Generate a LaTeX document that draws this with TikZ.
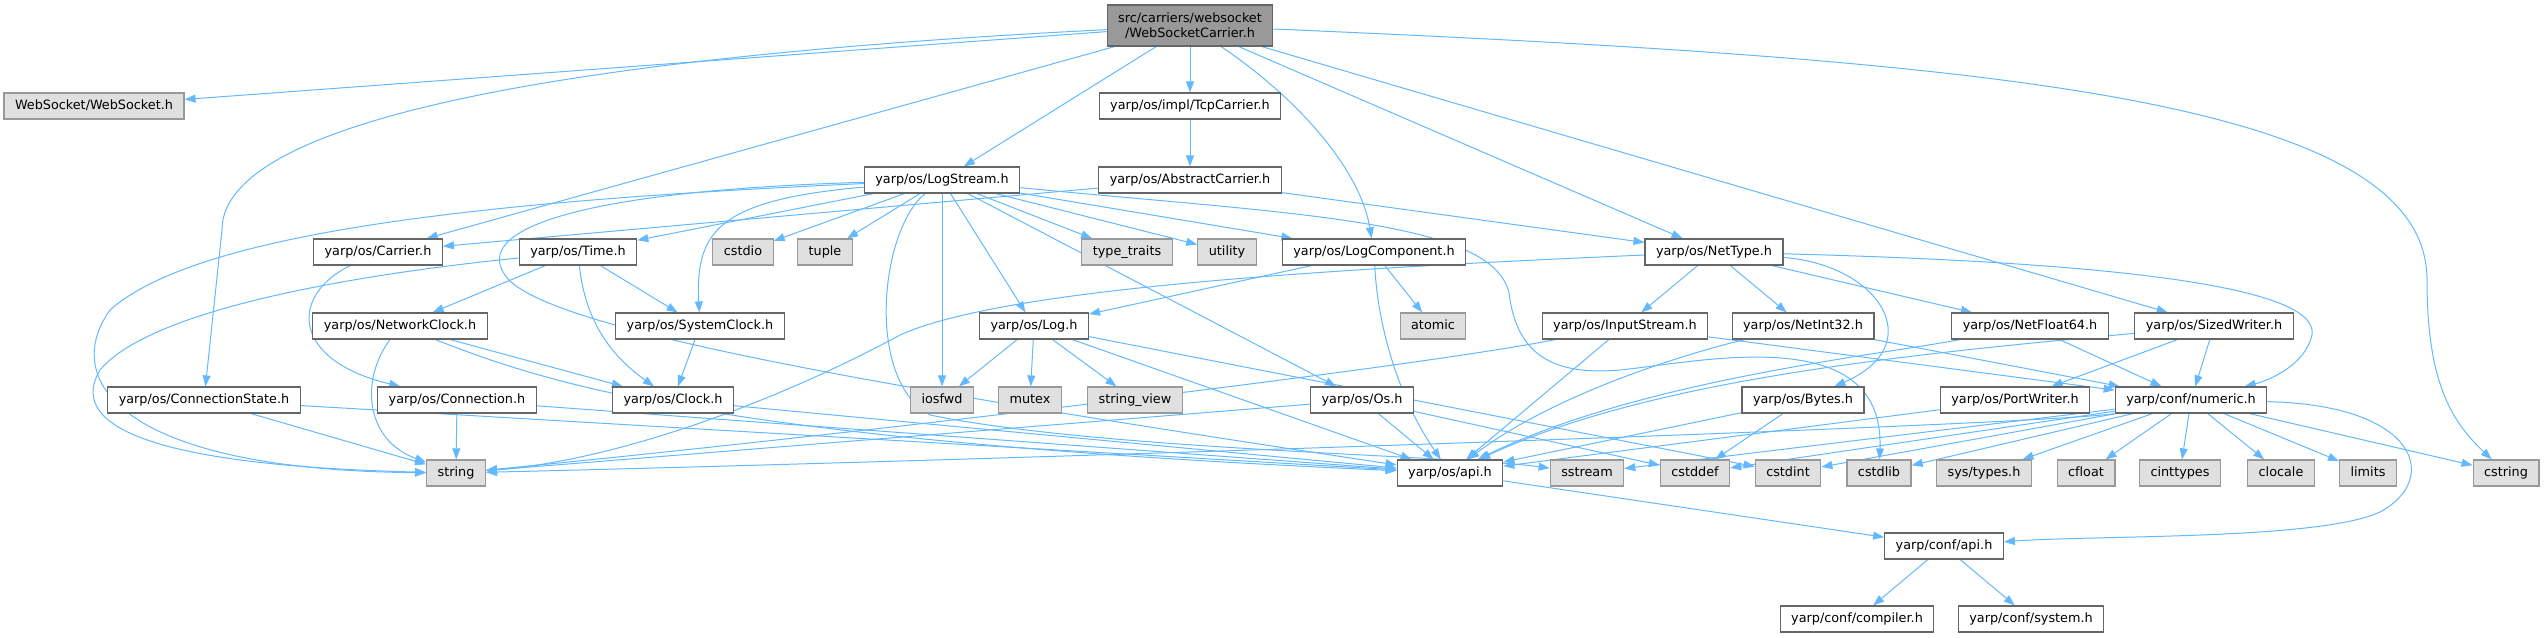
\documentclass[tikz,border=0pt]{standalone}
\usepackage{fontspec}
\setmainfont{DejaVu Sans}[Ligatures=NoCommon]
\usepackage{tikz}
\usetikzlibrary{arrows.meta}
\definecolor{incblue}{HTML}{63B8FF}
\definecolor{boxgray}{HTML}{666666}
\definecolor{sysgray}{HTML}{999999}
\definecolor{sysfill}{HTML}{E0E0E0}
\definecolor{srcfill}{HTML}{999999}
\pgfdeclarelayer{back}
\pgfsetlayers{back,main}

\begin{document}
\begin{tikzpicture}[
    x=1pt, y=-1pt,
    anybox/.style={rectangle, line width=1.2pt, font=\fontsize{12.8}{15}\selectfont,
                   inner xsep=11pt, inner ysep=0pt},
    hdrbox/.style={anybox, draw=boxgray, fill=white, minimum height=26pt,
                   text height=9.6pt, text depth=2.9pt},
    sysbox/.style={hdrbox, draw=sysgray, fill=sysfill},
    srcbox/.style={anybox, draw=boxgray, fill=srcfill, align=center, minimum height=41pt},
    arr/.style={-{Triangle[length=11pt,width=8pt]}, incblue, line width=1pt}
  ]
    \useasboundingbox (0,0) rectangle (2545,637);

    \node[srcbox] (main) at (1190,25.5) {src/carriers/websocket\\/WebSocketCarrier.h};

    \node[sysbox] (websocket) at (94,106)  {WebSocket/WebSocket.h};
    \node[hdrbox] (tcp)       at (1190,106) {yarp/os/impl/TcpCarrier.h};

    \node[hdrbox] (logstream) at (942,180)  {yarp/os/LogStream.h};
    \node[hdrbox] (abstract)  at (1190,180) {yarp/os/AbstractCarrier.h};

    \node[hdrbox] (carrier)    at (378,252)  {yarp/os/Carrier.h};
    \node[hdrbox] (time)       at (578,252)  {yarp/os/Time.h};
    \node[sysbox] (cstdio)     at (743,252)  {cstdio};
    \node[sysbox] (tuple)      at (825,252)  {tuple};
    \node[sysbox] (typetraits) at (1127,252) {type\_traits};
    \node[sysbox] (utility)    at (1227,252) {utility};
    \node[hdrbox] (logcomp)    at (1374,252) {yarp/os/LogComponent.h};
    \node[hdrbox] (nettype)    at (1714,252) {yarp/os/NetType.h};

    \node[hdrbox] (netclock)    at (400,326)  {yarp/os/NetworkClock.h};
    \node[hdrbox] (sysclock)    at (700,326)  {yarp/os/SystemClock.h};
    \node[hdrbox] (log)         at (1034,326) {yarp/os/Log.h};
    \node[sysbox] (atomic)      at (1433,326) {atomic};
    \node[hdrbox] (inputstream) at (1625,326) {yarp/os/InputStream.h};
    \node[hdrbox] (netint)      at (1803,326) {yarp/os/NetInt32.h};
    \node[hdrbox] (netfloat)    at (2030,326) {yarp/os/NetFloat64.h};
    \node[hdrbox] (sizedwriter) at (2214,326) {yarp/os/SizedWriter.h};

    \node[hdrbox] (connstate)  at (204,400)  {yarp/os/ConnectionState.h};
    \node[hdrbox] (connection) at (457,400)  {yarp/os/Connection.h};
    \node[hdrbox] (clock)      at (673,400)  {yarp/os/Clock.h};
    \node[sysbox] (iosfwd)     at (942,400)  {iosfwd};
    \node[sysbox] (mutex)      at (1030,400) {mutex};
    \node[sysbox] (stringview) at (1135,400) {string\_view};
    \node[hdrbox] (os)         at (1362,400) {yarp/os/Os.h};
    \node[hdrbox] (bytes)      at (1803,400) {yarp/os/Bytes.h};
    \node[hdrbox] (portwriter) at (2015,400) {yarp/os/PortWriter.h};
    \node[hdrbox] (numeric)    at (2191,400) {yarp/conf/numeric.h};

    \node[sysbox] (string)    at (456,473)  {string};
    \node[hdrbox] (osapi)     at (1450,473) {yarp/os/api.h};
    \node[sysbox] (sstream)   at (1587,473) {sstream};
    \node[sysbox] (cstddef)   at (1695,473) {cstddef};
    \node[sysbox] (cstdint)   at (1788,473) {cstdint};
    \node[sysbox] (cstdlib)   at (1879,473) {cstdlib};
    \node[sysbox] (systypes)  at (1984,473) {sys/types.h};
    \node[sysbox] (cfloat)    at (2086,473) {cfloat};
    \node[sysbox] (cinttypes) at (2180,473) {cinttypes};
    \node[sysbox] (clocale)   at (2281,473) {clocale};
    \node[sysbox] (limits)    at (2368,473) {limits};
    \node[sysbox] (cstring)   at (2506,473) {cstring};

    \node[hdrbox] (confapi)  at (1944,546) {yarp/conf/api.h};
    \node[hdrbox] (compiler) at (1857,619) {yarp/conf/compiler.h};
    \node[hdrbox] (system)   at (2031,619) {yarp/conf/system.h};

    \begin{pgfonlayer}{back}
    % WebSocketCarrier.h
    \draw[arr] (main) -- (websocket);
    \draw[arr] (main) .. controls (700,50) and (222,100) .. (222,230) -- (connstate);
    \draw[arr] (main) -- (carrier);
    \draw[arr] (main) -- (logstream);
    \draw[arr] (main) -- (tcp);
    \draw[arr] (main) .. controls (1300,100) and (1360,170) .. (logcomp);
    \draw[arr] (main) -- (nettype);
    \draw[arr] (main) -- (sizedwriter);
    \draw[arr] (main) .. controls (2000,60) and (2427,100) .. (2427,280)
                      .. controls (2427,380) and (2450,420) .. (cstring);

    \draw[arr] (tcp) -- (abstract);
    \draw[arr] (abstract) -- (carrier);
    \draw[arr] (abstract) -- (nettype);
    \draw[arr] (carrier) .. controls (290,295) and (290,360) .. (connection);

    % LogStream.h
    \draw[arr] (logstream) .. controls (500,200) and (200,230) .. (110,310)
                           .. controls (60,380) and (120,470) .. (string);
    \draw[arr] (logstream) .. controls (600,190) and (470,225) .. (505,275)
                           .. controls (540,330) and (900,390) .. (osapi);
    \draw[arr] (logstream) .. controls (880,230) and (865,380) .. (930,415)
                           .. controls (1100,450) and (1450,455) .. (sstream);
    \draw[arr] (logstream) .. controls (1300,215) and (1505,220) .. (1510,300)
                           .. controls (1520,360) and (1560,375) .. (1620,370)
                           .. controls (1700,362) and (1885,320) .. (cstdlib);
    \draw[arr] (logstream) -- (time);
    \draw[arr] (logstream) .. controls (720,200) and (695,230) .. (sysclock);
    \draw[arr] (logstream) -- (cstdio);
    \draw[arr] (logstream) -- (tuple);
    \draw[arr] (logstream) -- (iosfwd);
    \draw[arr] (logstream) -- (log);
    \draw[arr] (logstream) -- (os);
    \draw[arr] (logstream) -- (typetraits);
    \draw[arr] (logstream) -- (utility);
    \draw[arr] (logstream) -- (logcomp);

    % clocks
    \draw[arr] (time) .. controls (350,275) and (150,310) .. (100,370)
                      .. controls (70,420) and (130,465) .. (string);
    \draw[arr] (time) -- (netclock);
    \draw[arr] (time) -- (sysclock);
    \draw[arr] (time) .. controls (585,320) and (610,355) .. (clock);
    \draw[arr] (sysclock) -- (clock);
    \draw[arr] (netclock) -- (clock);
    \draw[arr] (netclock) .. controls (360,380) and (365,440) .. (string);
    \draw[arr] (netclock) .. controls (540,380) and (700,440) .. (osapi);
    \draw[arr] (clock) -- (osapi);
    \draw[arr] (connstate) -- (string);
    \draw[arr] (connstate) -- (osapi);
    \draw[arr] (connection) -- (string);
    \draw[arr] (connection) -- (osapi);

    % Log.h, LogComponent.h, Os.h
    \draw[arr] (log) -- (iosfwd);
    \draw[arr] (log) -- (mutex);
    \draw[arr] (log) -- (stringview);
    \draw[arr] (log) -- (osapi);
    \draw[arr] (log) -- (cstdint);
    \draw[arr] (logcomp) -- (log);
    \draw[arr] (logcomp) -- (atomic);
    \draw[arr] (logcomp) .. controls (1378,330) and (1400,400) .. (osapi);
    \draw[arr] (os) -- (string);
    \draw[arr] (os) -- (osapi);
    \draw[arr] (os) -- (cstddef);

    % NetType.h
    \draw[arr] (nettype) .. controls (1300,270) and (1000,290) .. (900,335)
                         .. controls (780,400) and (620,460) .. (string);
    \draw[arr] (nettype) -- (inputstream);
    \draw[arr] (nettype) -- (netint);
    \draw[arr] (nettype) -- (netfloat);
    \draw[arr] (nettype) .. controls (1880,265) and (1930,345) .. (bytes);
    \draw[arr] (nettype) .. controls (2100,262) and (2320,285) .. (2312,335)
                         .. controls (2305,365) and (2270,380) .. (numeric);

    \draw[arr] (inputstream) .. controls (1400,370) and (800,440) .. (string);
    \draw[arr] (inputstream) -- (osapi);
    \draw[arr] (inputstream) -- (numeric);
    \draw[arr] (netint) .. controls (1700,350) and (1560,390) .. (osapi);
    \draw[arr] (netint) -- (numeric);
    \draw[arr] (netfloat) .. controls (1880,355) and (1640,380) .. (osapi);
    \draw[arr] (netfloat) -- (numeric);
    \draw[arr] (sizedwriter) .. controls (1900,355) and (1650,380) .. (osapi);
    \draw[arr] (sizedwriter) -- (portwriter);
    \draw[arr] (sizedwriter) -- (numeric);
    \draw[arr] (bytes) -- (osapi);
    \draw[arr] (bytes) -- (cstddef);
    \draw[arr] (portwriter) -- (osapi);

    % yarp/conf/numeric.h
    \draw[arr] (numeric) .. controls (2050,425) and (1000,460) .. (string);
    \draw[arr] (numeric) -- (sstream);
    \draw[arr] (numeric) -- (cstddef);
    \draw[arr] (numeric) -- (cstdint);
    \draw[arr] (numeric) -- (cstdlib);
    \draw[arr] (numeric) -- (systypes);
    \draw[arr] (numeric) -- (cfloat);
    \draw[arr] (numeric) -- (cinttypes);
    \draw[arr] (numeric) -- (clocale);
    \draw[arr] (numeric) -- (limits);
    \draw[arr] (numeric) -- (cstring);
    \draw[arr] (numeric) .. controls (2420,405) and (2440,480) .. (2380,512)
                         .. controls (2320,540) and (2100,535) .. (confapi);

    \draw[arr] (osapi) -- (confapi);
    \draw[arr] (confapi) -- (compiler);
    \draw[arr] (confapi) -- (system);
    \end{pgfonlayer}
\end{tikzpicture}
\end{document}
